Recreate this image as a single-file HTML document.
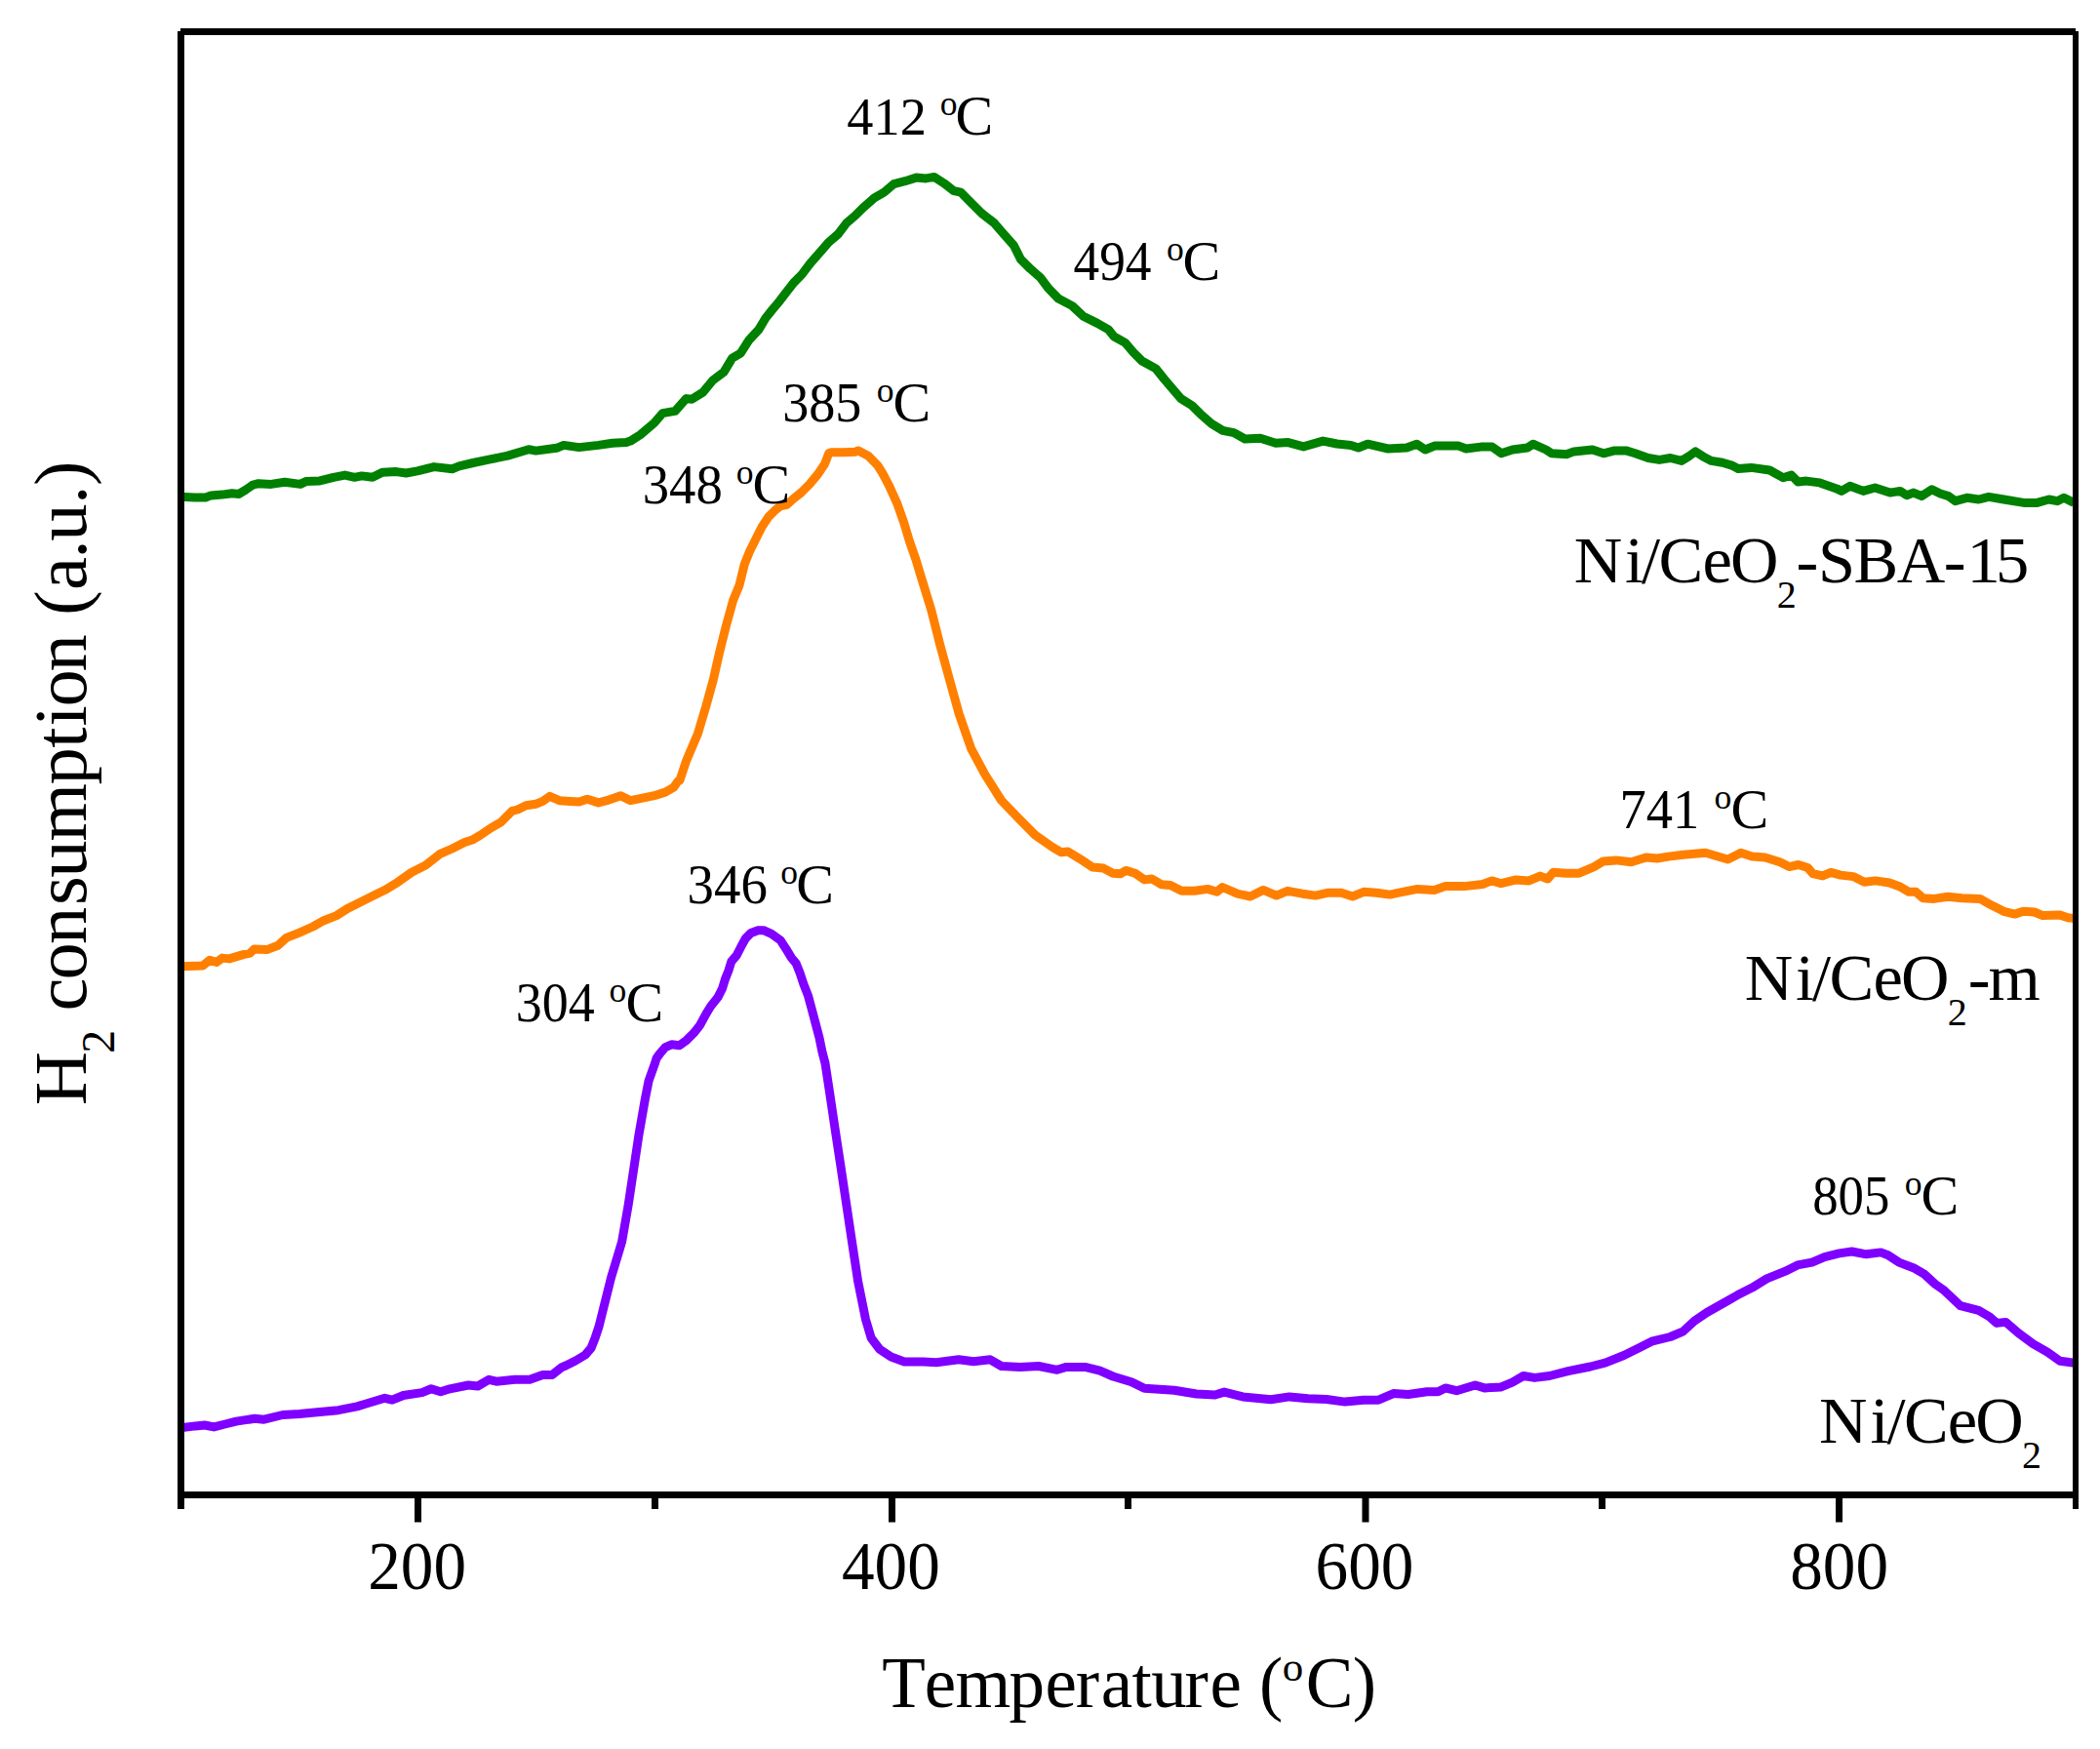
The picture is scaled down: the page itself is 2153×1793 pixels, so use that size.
<!DOCTYPE html><html><head><meta charset="utf-8"><title>H2-TPR profiles</title><style>html,body{margin:0;padding:0;background:#fff;}svg{display:block}</style></head><body>
<svg width="2153" height="1793" viewBox="0 0 2153 1793" font-family="'Liberation Serif', 'Times New Roman', serif" fill="#000">
<rect width="2153" height="1793" fill="#fff"/>
<polyline fill="none" stroke="#008000" stroke-width="9" stroke-linejoin="round" stroke-linecap="butt" points="185.0,509.3 199.3,510.0 210.7,510.0 216.4,507.9 227.9,507.1 237.9,505.7 245.0,506.4 250.7,502.9 259.3,497.1 265.0,495.7 277.9,496.4 292.0,494.3 307.9,496.4 313.6,493.6 327.9,492.9 342.0,489.3 353.6,487.1 363.6,489.3 370.7,487.9 382.0,489.3 392.0,484.3 406.4,483.6 416.4,485.0 427.9,482.9 445.0,478.6 463.6,480.7 470.7,477.9 485.0,474.5 503.6,470.7 520.7,467.1 542.0,460.7 549.3,462.1 570.7,459.3 577.9,456.4 593.6,458.6 613.6,456.4 627.9,454.3 642.1,453.6 646.4,452.1 656.4,445.7 670.7,433.6 679.3,423.6 692.1,421.4 703.6,408.6 709.3,409.3 720.7,402.1 730.7,390.0 742.1,381.4 750.7,367.1 759.3,362.1 767.9,348.6 777.9,337.9 785.0,326.0 792.1,317.1 799.3,308.6 806.4,299.3 813.6,290.0 822.1,281.4 830.7,270.0 842.1,257.1 849.3,248.6 859.3,240.0 867.9,228.6 876.4,221.4 885.0,212.9 896.4,202.9 906.4,197.1 916.4,188.6 927.9,185.7 939.3,182.1 949.3,182.9 957.9,181.4 967.9,187.9 977.9,195.7 985.0,197.1 996.4,208.6 1006.4,218.6 1019.3,228.6 1027.9,238.6 1039.3,251.4 1046.4,265.7 1056.4,275.7 1066.4,284.3 1075.0,295.7 1085.0,306.0 1099.3,313.6 1110.7,324.3 1125.0,331.4 1136.4,337.9 1142.1,345.0 1153.6,351.4 1162.1,361.4 1170.7,370.0 1185.0,377.9 1193.6,388.6 1202.1,398.6 1210.7,408.6 1222.1,415.7 1230.7,424.3 1242.1,434.3 1253.6,441.4 1265.0,443.6 1276.4,450.0 1292.1,449.3 1307.9,454.3 1320.7,453.6 1336.4,457.9 1356.4,452.1 1370.7,455.0 1385.0,456.5 1392.6,459.0 1402.1,455.2 1423.1,460.0 1442.1,459.0 1452.6,455.2 1461.2,461.0 1470.7,457.1 1484.0,457.1 1495.5,457.1 1503.1,460.0 1518.3,458.1 1529.8,458.1 1539.3,464.8 1550.7,461.0 1566.0,459.0 1571.7,455.2 1585.0,461.0 1590.7,464.8 1606.0,465.7 1613.6,462.9 1632.6,461.0 1644.0,464.8 1655.5,461.9 1666.9,461.9 1676.4,464.8 1689.8,469.5 1701.2,471.4 1712.6,469.5 1724.0,472.4 1731.7,467.6 1738.3,462.9 1746.9,468.6 1754.5,472.4 1766.0,474.3 1775.5,477.1 1782.0,480.5 1795.4,479.4 1814.3,482.0 1828.0,489.7 1836.6,487.1 1843.4,494.0 1852.0,493.1 1865.7,494.9 1882.9,500.9 1888.0,503.4 1896.6,498.3 1910.3,503.4 1922.3,500.0 1937.7,505.1 1948.0,503.4 1954.9,507.7 1961.7,505.1 1970.3,508.6 1980.6,501.7 1989.2,506.0 1997.7,508.6 2004.6,513.7 2016.6,510.3 2028.6,512.0 2038.9,509.4 2054.3,512.0 2074.9,515.4 2088.6,515.4 2100.6,512.0 2109.2,513.7 2116.0,510.3 2126.3,515.4"/>
<polyline fill="none" stroke="#ff8000" stroke-width="9" stroke-linejoin="round" stroke-linecap="butt" points="185.0,990.7 207.9,990.0 215.0,984.3 222.1,986.4 227.9,982.1 235.0,982.9 249.3,978.6 256.4,977.1 260.7,972.9 273.6,973.6 285.0,969.3 293.6,961.4 306.4,956.4 320.7,950.0 330.7,944.3 345.0,938.6 356.4,931.4 370.7,924.3 382.1,918.6 396.4,911.4 407.9,904.3 422.1,894.3 436.4,887.1 450.7,875.7 463.6,870.0 476.4,863.6 485.0,860.7 492.1,856.4 503.6,848.6 513.6,842.9 525.0,831.4 530.7,830.0 539.3,825.7 549.3,824.3 556.4,821.4 563.6,816.4 573.6,820.7 585.0,821.4 593.6,822.1 602.1,819.3 613.6,822.9 622.1,820.7 636.4,815.7 646.4,820.7 656.4,818.6 670.7,815.7 682.1,812.1 690.7,807.1 695.0,801.0 696.9,800.1 703.7,779.7 715.4,752.2 723.6,724.8 731.2,697.3 737.4,669.8 744.2,642.4 751.8,614.9 758.0,600.0 763.2,578.6 768.3,565.8 776.9,548.6 781.2,540.0 788.0,529.8 794.9,522.9 800.0,519.0 806.9,517.3 812.9,511.7 821.5,504.9 830.0,496.3 838.6,486.0 845.5,475.7 849.8,464.6 853.0,463.7 865.0,463.7 877.2,463.2 880.0,462.0 890.0,467.2 900.0,477.4 904.8,485.2 911.4,497.6 920.0,516.7 926.7,535.7 932.4,554.8 939.0,573.8 944.8,592.9 954.8,625.5 963.7,660.9 973.4,696.4 983.2,731.8 995.6,767.3 1009.8,793.9 1026.6,820.5 1043.5,838.2 1061.2,856.0 1078.9,868.4 1087.8,873.7 1094.9,873.0 1107.3,880.6 1120.0,889.0 1131.4,890.1 1141.0,895.2 1148.6,895.8 1154.3,892.4 1163.8,895.2 1173.3,901.9 1181.0,901.0 1190.5,906.7 1200.0,907.6 1211.4,913.3 1224.8,913.3 1238.1,911.4 1247.6,914.3 1253.3,909.5 1268.6,916.2 1281.9,919.0 1295.2,912.4 1308.6,918.1 1320.0,913.3 1335.2,916.2 1348.6,918.1 1361.9,915.2 1375.2,915.2 1386.7,919.0 1398.1,914.3 1411.4,915.2 1424.8,917.1 1434.3,915.2 1453.3,911.4 1470.5,912.4 1481.9,908.6 1501.0,908.6 1520.0,906.5 1529.5,902.9 1539.0,905.7 1554.3,901.9 1567.6,902.9 1579.0,898.1 1586.7,901.0 1592.4,894.3 1605.7,895.2 1619.0,895.2 1634.3,888.6 1643.8,882.9 1657.1,881.9 1672.4,883.8 1687.6,879.0 1699.0,880.0 1710.5,878.1 1725.7,876.2 1748.6,874.3 1771.4,881.0 1784.8,874.3 1796.2,878.1 1809.5,879.0 1824.8,883.8 1834.3,888.6 1843.8,886.5 1853.3,889.5 1858.6,895.7 1868.6,897.9 1877.1,894.3 1887.1,897.1 1900.0,898.6 1911.4,904.3 1922.9,902.9 1937.1,905.0 1948.6,909.3 1957.1,914.3 1964.3,914.3 1971.4,920.7 1982.9,921.4 1997.1,919.3 2011.4,920.7 2030.0,921.4 2042.9,928.6 2054.3,934.3 2065.7,937.1 2074.3,934.3 2085.7,935.0 2094.3,938.6 2111.4,937.9 2120.0,940.7 2127.1,941.4"/>
<polyline fill="none" stroke="#8000ff" stroke-width="9" stroke-linejoin="round" stroke-linecap="butt" points="185.0,1463.8 200.2,1461.9 209.8,1461.0 219.3,1462.9 230.7,1460.0 242.1,1457.1 261.2,1454.3 270.7,1455.2 289.8,1450.5 306.9,1449.5 327.9,1447.6 346.9,1445.7 366.0,1441.9 375.5,1439.0 394.5,1433.3 402.1,1435.2 413.6,1430.5 432.6,1427.6 442.1,1423.8 451.7,1426.7 461.2,1423.8 480.2,1420.0 489.8,1421.0 501.2,1414.3 508.8,1416.2 527.9,1414.3 543.1,1414.3 556.4,1409.5 566.0,1409.5 575.5,1401.9 580.0,1400.0 590.0,1395.0 600.0,1389.0 606.0,1382.0 610.0,1372.0 614.0,1360.0 617.5,1346.0 626.6,1309.5 637.6,1273.0 644.0,1236.3 649.5,1199.8 655.0,1163.2 661.4,1126.6 665.0,1108.3 671.5,1090.0 673.0,1085.0 676.6,1080.0 682.1,1073.6 688.5,1070.8 696.7,1071.7 704.0,1066.3 711.4,1058.9 717.8,1050.7 724.2,1038.8 728.7,1031.5 736.1,1022.3 740.6,1013.2 743.4,1004.0 747.0,994.9 749.8,985.7 755.3,979.3 759.9,970.2 764.4,962.0 769.9,956.5 777.2,953.7 782.7,953.7 791.0,957.4 800.0,963.8 805.7,972.4 811.4,981.9 816.2,987.6 820.0,997.1 823.8,1008.6 828.6,1021.0 832.4,1035.2 836.2,1049.5 840.0,1063.8 842.9,1078.1 846.0,1090.0 850.4,1118.9 856.2,1157.8 862.1,1196.7 867.9,1235.6 873.7,1274.4 879.6,1313.3 887.4,1352.2 893.2,1371.7 901.9,1383.3 913.6,1391.1 927.2,1396.0 946.7,1396.0 960.0,1396.7 982.9,1393.8 998.1,1395.7 1015.2,1393.8 1026.7,1400.5 1045.7,1401.4 1064.8,1400.5 1083.8,1404.3 1093.3,1401.4 1112.4,1401.4 1127.6,1405.2 1141.0,1411.0 1160.0,1416.7 1173.3,1423.3 1188.6,1424.3 1203.8,1425.2 1226.7,1429.0 1245.7,1430.0 1255.2,1427.1 1274.3,1431.9 1302.9,1434.8 1321.9,1431.9 1341.0,1433.8 1360.0,1434.5 1379.0,1437.1 1398.1,1435.2 1413.3,1435.2 1428.6,1428.6 1443.8,1429.5 1462.9,1426.7 1474.3,1426.7 1481.9,1422.9 1493.3,1425.7 1512.4,1420.0 1521.9,1422.9 1539.0,1421.9 1550.5,1417.1 1561.9,1410.5 1573.3,1412.4 1588.6,1410.5 1607.6,1405.7 1630.5,1401.0 1645.7,1397.1 1664.8,1389.5 1680.0,1381.9 1693.3,1375.2 1712.4,1370.5 1725.7,1364.8 1737.1,1354.3 1750.0,1345.5 1768.6,1335.0 1781.6,1327.6 1796.4,1320.1 1811.3,1310.9 1829.9,1303.4 1842.9,1296.9 1857.7,1294.1 1870.7,1288.6 1885.6,1284.9 1898.6,1283.0 1913.4,1285.8 1928.3,1283.9 1935.7,1286.7 1946.8,1294.1 1961.7,1299.7 1972.8,1306.2 1984.0,1316.4 1993.3,1322.9 2010.0,1338.7 2028.6,1343.4 2039.7,1349.8 2047.1,1356.4 2056.4,1355.4 2069.4,1366.6 2084.3,1377.7 2099.1,1386.1 2112.1,1395.3 2127.0,1397.2"/>
<g fill="#000">
<rect x="185" y="29" width="1943" height="7"/>
<rect x="182" y="32" width="7" height="1515"/>
<rect x="2125" y="32" width="6" height="1515"/>
<rect x="182" y="1529" width="1949" height="7"/>
<rect x="425.0" y="1536" width="7" height="24.5"/>
<rect x="911.0" y="1536" width="7" height="24.5"/>
<rect x="1396.5" y="1536" width="7" height="24.5"/>
<rect x="1882.0" y="1536" width="7" height="24.5"/>
<rect x="668.0" y="1536" width="7" height="11"/>
<rect x="1153.0" y="1536" width="7" height="11"/>
<rect x="1639.0" y="1536" width="7" height="11"/>
</g>
<g transform="translate(427.6,1628.5) scale(0.96,1)"><text x="0" y="0" font-size="70" text-anchor="middle">200</text></g>
<g transform="translate(913.4,1628.5) scale(0.96,1)"><text x="0" y="0" font-size="70" text-anchor="middle">400</text></g>
<g transform="translate(1399.0,1628.5) scale(0.96,1)"><text x="0" y="0" font-size="70" text-anchor="middle">600</text></g>
<g transform="translate(1885.6,1628.5) scale(0.96,1)"><text x="0" y="0" font-size="70" text-anchor="middle">800</text></g>
<text y="1750.4" font-size="73"><tspan x="904.3 947.8 979.4 1034.4 1071.5 1102.8 1128.7 1160.4 1180.3 1214.5 1240.5 1279.2 1291.0">Temperature (</tspan><tspan x="1314.7" y="1722.8" font-size="43">o</tspan><tspan x="1338.8" y="1750.4">C</tspan><tspan x="1386.8">)</tspan></text>
<g transform="translate(88,0) rotate(-90)"><text y="0" font-size="76.5"><tspan x="-1133.2">H</tspan><tspan x="-1079.8" y="29" font-size="48">2</tspan><tspan x="-1055.7 -1036.6 -1004.6 -968.1 -928.1 -899.8 -862.5 -804.6 -766.8 -744.4 -724.4 -688.6 -650.4 -630.8 -605.0 -572.5 -554.7 -516.8 -498.1" y="0"> consumption (a.u.)</tspan></text></g>
<g transform="translate(868.36,137.8) scale(0.970,1)"><text x="0" y="0" font-size="56">412</text></g>
<text y="137.8" font-size="56"><tspan x="963.7" y="117.9" font-size="35.6">o</tspan><tspan x="979.4" y="137.8" font-size="58">C</tspan></text>
<g transform="translate(1100.47,287.0) scale(0.953,1)"><text x="0" y="0" font-size="56">494</text></g>
<text y="287.0" font-size="56"><tspan x="1195.9" y="267.1" font-size="35.6">o</tspan><tspan x="1212.5" y="287.0" font-size="58">C</tspan></text>
<g transform="translate(802.13,431.6) scale(0.968,1)"><text x="0" y="0" font-size="56">385</text></g>
<text y="431.6" font-size="56"><tspan x="898.8" y="411.7" font-size="35.6">o</tspan><tspan x="915.4" y="431.6" font-size="58">C</tspan></text>
<g transform="translate(658.71,516.0) scale(0.977,1)"><text x="0" y="0" font-size="56">348</text></g>
<text y="516.0" font-size="56"><tspan x="754.8" y="496.1" font-size="35.6">o</tspan><tspan x="771.6" y="516.0" font-size="58">C</tspan></text>
<g transform="translate(1660.53,849.0) scale(0.973,1)"><text x="0" y="0" font-size="56">741</text></g>
<text y="849.0" font-size="56"><tspan x="1757.5" y="829.1" font-size="35.6">o</tspan><tspan x="1774.4" y="849.0" font-size="58">C</tspan></text>
<g transform="translate(704.61,926.2) scale(0.979,1)"><text x="0" y="0" font-size="56">346</text></g>
<text y="926.2" font-size="56"><tspan x="800.3" y="906.3" font-size="35.6">o</tspan><tspan x="816.3" y="926.2" font-size="58">C</tspan></text>
<g transform="translate(528.74,1046.6) scale(0.963,1)"><text x="0" y="0" font-size="56">304</text></g>
<text y="1046.6" font-size="56"><tspan x="624.6" y="1026.7" font-size="35.6">o</tspan><tspan x="641.4" y="1046.6" font-size="58">C</tspan></text>
<g transform="translate(1858.22,1244.6) scale(0.942,1)"><text x="0" y="0" font-size="56">805</text></g>
<text y="1244.6" font-size="56"><tspan x="1952.7" y="1224.7" font-size="35.6">o</tspan><tspan x="1969.4" y="1244.6" font-size="58">C</tspan></text>
<text y="597.3" font-size="68.5"><tspan x="1613.7 1666.1 1683.1 1700.6 1745.4 1773.9">Ni/CeO</tspan><tspan x="1821.8" y="623.3" font-size="40">2</tspan><tspan x="1841.6 1863.9 1900.5 1944.7 1992.7 2016.4 2046.1" y="597.3">-SBA-15</tspan></text>
<text y="1025.2" font-size="68.5"><tspan x="1788.7 1841.1 1858.1 1875.6 1920.4 1948.9">Ni/CeO</tspan><tspan x="1996.8" y="1051.1" font-size="40">2</tspan><tspan x="2017.8 2038.4" y="1025.2">-m</tspan></text>
<text y="1478.6" font-size="68.5"><tspan x="1865.0 1917.4 1934.4 1951.9 1996.7 2025.2">Ni/CeO</tspan><tspan x="2073.1" y="1505.1" font-size="40">2</tspan></text>
</svg></body></html>
